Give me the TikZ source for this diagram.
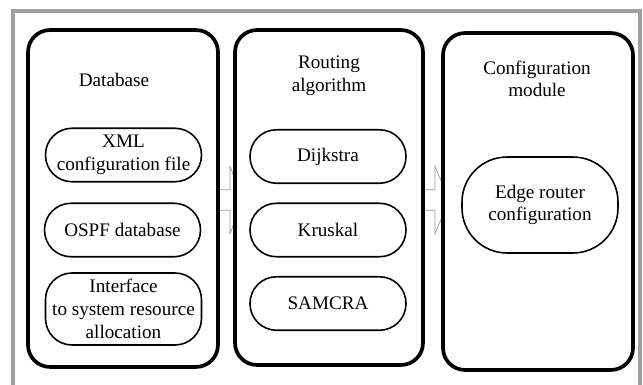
\documentclass[tikz,border=0pt]{standalone}
\usepackage{fontspec}
\setmainfont{Liberation Serif}
\usepackage{tikz}
\usetikzlibrary{shapes,arrows,positioning,calc}

\begin{document}
\begin{tikzpicture}[
    x=0.02cm, y=-0.02cm,
    font=\fontsize{10.9}{12.9}\selectfont,
    module/.style={rectangle, draw, line width=2.1pt, rounded corners=0.44cm, fill=white, minimum width=3.8cm, minimum height=6.74cm},
    item/.style={rectangle, draw, line width=0.9pt, rounded corners=0.53cm, fill=white, align=center, inner sep=0pt, minimum width=3.12cm, minimum height=1.07cm},
    heading/.style={align=center, inner sep=0pt},
    flow/.style={single arrow, draw=gray!80, line width=0.4pt, fill=white, minimum width=1.32cm, inner sep=0.2cm, single arrow head extend=0.46cm, single arrow tip angle=134}
]
\useasboundingbox (0,0) rectangle (643,385);

% Frame
\draw[gray!75, line width=2.2pt] (13,385) -- (13,11) -- (640,11) -- (640,385);

% Flow arrows (behind the modules)
\node[flow, minimum height=0.74cm] (flowa) at (223.5,200) {};
\node[flow, minimum height=0.68cm] (flowb) at (430,200) {};

% Modules
\node[module] (database) at (123,198.5) {};
\node[module, minimum width=3.76cm, minimum height=6.7cm] (routing) at (329,197.5) {};
\node[module] (config) at (538,201.5) {};

% Headings
\node[heading] (dbtitle) at (114,80) {Database};
\node[heading] (rttitle) at (329,76) {Routing\\algorithm};
\node[heading] (cftitle) at (537,79) {Configuration\\module};

% Database items
\node[item] (xml) at (123.5,155) {XML\\configuration file};
\node[item] (ospf) at (122.5,230) {OSPF database};
\node[item, minimum height=1.44cm] (iface) at (123.5,309) {Interface\\to system resource\\allocation};

% Routing items
\node[item] (dijkstra) at (328,156.5) {Dijkstra};
\node[item] (kruskal) at (328,230) {Kruskal};
\node[item] (samcra) at (328,303.5) {SAMCRA};

% Configuration item
\node[item, rounded corners=0.9cm, minimum height=1.92cm] (edge) at (540,205) {Edge router\\configuration};

\end{tikzpicture}
\end{document}
